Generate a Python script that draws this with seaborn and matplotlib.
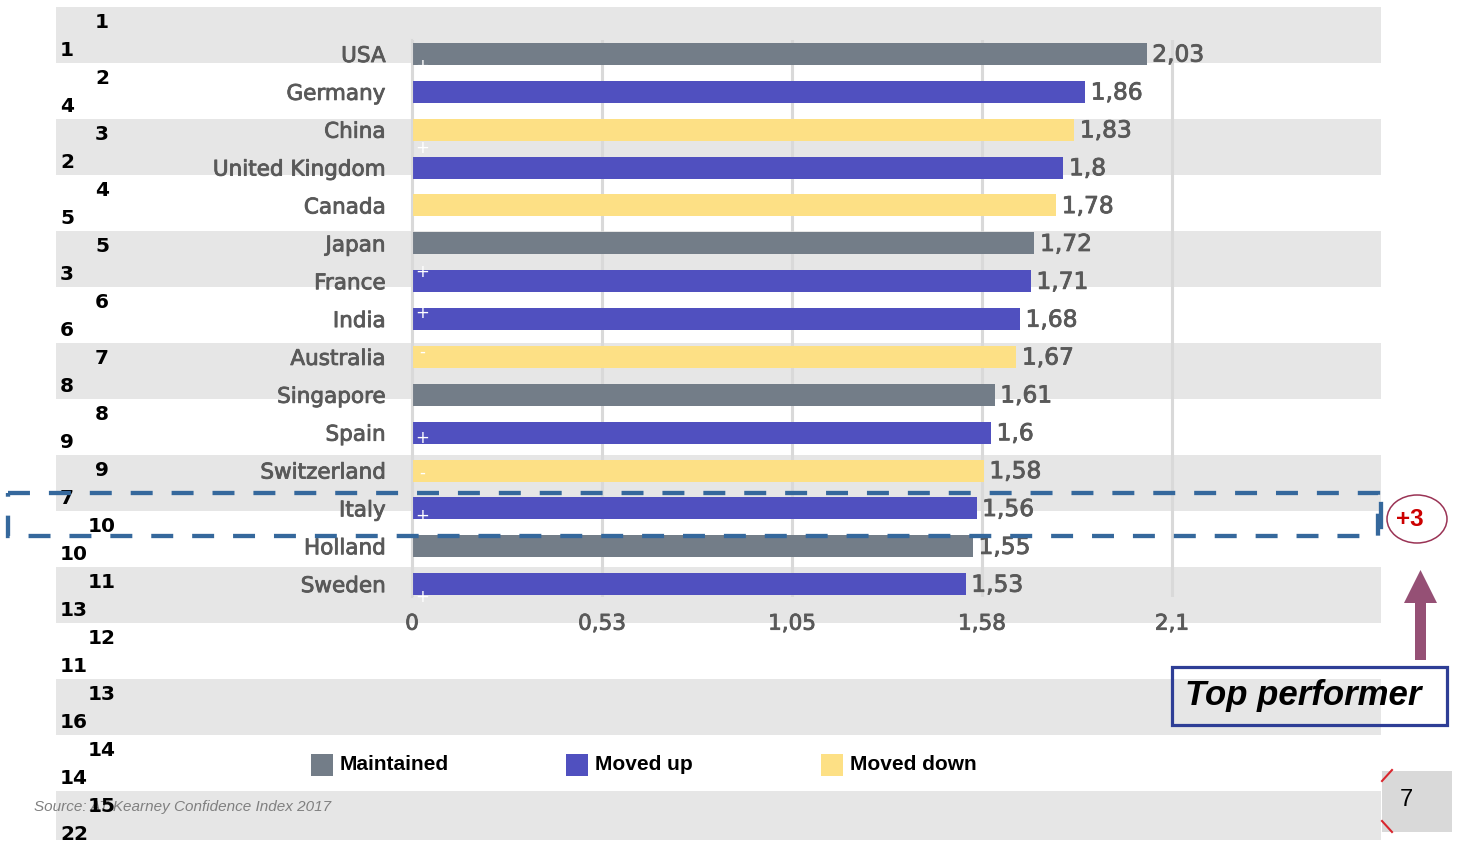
import numpy as np
import pandas as pd
import matplotlib
matplotlib.use("Agg")
import matplotlib.pyplot as plt
import matplotlib.patheffects as pe
import seaborn as sns
from matplotlib.patches import Rectangle, Ellipse, Polygon
from matplotlib.lines import Line2D

# ---------------- data ----------------
countries = ["USA", "Germany", "China", "United Kingdom", "Canada", "Japan",
             "France", "India", "Australia", "Singapore", "Spain",
             "Switzerland", "Italy", "Holland", "Sweden"]
scores = [2.03, 1.86, 1.83, 1.8, 1.78, 1.72, 1.71, 1.68, 1.67, 1.61, 1.6,
          1.58, 1.56, 1.55, 1.53]
status = ["Maintained", "Moved up", "Moved down", "Moved up", "Moved down",
          "Maintained", "Moved up", "Moved up", "Moved down", "Maintained",
          "Moved up", "Moved down", "Moved up", "Maintained", "Moved up"]
status_order = ["Maintained", "Moved up", "Moved down"]
status_colors = ["#737d88", "#5050bf", "#fde085"]

rank_new = [1, 2, 3, 4, 5, 6, 7, 8, 9, 10, 11, 12, 13, 14, 15]
rank_old = [1, 4, 2, 5, 3, 6, 8, 9, 7, 10, 13, 11, 16, 14, 22]

x_ticks = [0, 0.525, 1.05, 1.575, 2.1]
x_tick_labels = ["0", "0,53", "1,05", "1,58", "2,1"]

# small white change markers drawn on the bars (country, sign, row offset)
marker_country = ["USA", "United Kingdom", "France", "India", "Australia",
                  "Spain", "Switzerland", "Italy", "Sweden"]
marker_sign = ["+", "+", "+", "+", "-", "+", "-", "+", "+"]
marker_offset = [0.32, -0.53, -0.24, -0.16, -0.13, 0.13, 0.05, 0.21, 0.34]

source_text = "Source: AT Kearney Confidence Index 2017"

df = pd.DataFrame({"country": countries, "score": scores, "status": status})

label_gray = "#595959"
heavier = [pe.withStroke(linewidth=0.6, foreground=label_gray)]

# ---------------- figure ----------------
W, H = 1457, 843
fig = plt.figure(figsize=(W / 100, H / 100), dpi=100)
fig.patch.set_facecolor("white")

bg = fig.add_axes([0, 0, 1, 1], zorder=0)
bg.set_xlim(0, W)
bg.set_ylim(H, 0)
bg.axis("off")

# alternating table bands
for i in range(len(rank_new)):
    top = 7 + 56 * i
    if i % 2 == 0:
        bg.add_patch(Rectangle((56, top), 1325, min(56, 840 - top),
                               facecolor="#e6e6e6", lw=0))

# source text (under rank numbers)
bg.text(34, 807, source_text, fontsize=11, style="italic", color="#808080",
        family="Liberation Sans", ha="left", va="center", zorder=1)

# rank numbers
for i, (rn, ro) in enumerate(zip(rank_new, rank_old)):
    bg.text(102, 22.5 + 56 * i, str(rn), fontsize=14.5, fontweight="bold",
            family="DejaVu Sans", color="black", ha="center", va="center", zorder=2)
    bg.text(60, 50 + 56 * i, str(ro), fontsize=14.5, fontweight="bold",
            family="DejaVu Sans", color="black", ha="left", va="center", zorder=2)

# legend (manual)
leg_x = [311, 566, 821]
for x0, lab, col in zip(leg_x, status_order, status_colors):
    bg.add_patch(Rectangle((x0, 754), 22, 22, facecolor=col, lw=0))
    bg.text(x0 + 29, 764, lab, fontsize=15, fontweight="bold",
            family="Liberation Sans", color="black", ha="left", va="center")

# ---------------- main bar chart ----------------
px_per_unit = 760 / 2.1
xmax = 2.2
ax_left, ax_top, ax_bottom = 412, 40, 597
ax = fig.add_axes([ax_left / W, 1 - ax_bottom / H,
                   xmax * px_per_unit / W, (ax_bottom - ax_top) / H], zorder=1)
ax.patch.set_alpha(0)

sns.barplot(data=df, y="country", x="score", hue="status",
            hue_order=status_order, palette=dict(zip(status_order, status_colors)),
            dodge=False, width=0.58, orient="h", saturation=1, legend=False,
            ax=ax, zorder=2)

ax.set_xlim(0, xmax)
ax.set_ylim(14.34, -0.37)
ax.set_xlabel("")
ax.set_ylabel("")
ax.set_xticks(x_ticks)
ax.set_xticklabels(x_tick_labels)
ax.xaxis.grid(True, color="#d9d9d9", lw=2.2)
ax.yaxis.grid(False)
ax.set_axisbelow(True)
for s in ["top", "right", "bottom"]:
    ax.spines[s].set_visible(False)
ax.spines["left"].set_color("#d9d9d9")
ax.spines["left"].set_linewidth(1.5)
ax.tick_params(axis="x", length=0, pad=12, labelsize=15.5, labelcolor=label_gray)
ax.tick_params(axis="y", length=0, pad=19, labelsize=15.5, labelcolor=label_gray)
for lbl in ax.get_xticklabels() + ax.get_yticklabels():
    lbl.set_fontfamily("DejaVu Sans")
    lbl.set_path_effects(heavier)

# value labels
for i, v in enumerate(scores):
    ax.annotate(f"{v:g}".replace(".", ","), (v, i), xytext=(4, -0.8),
                textcoords="offset points", ha="left", va="center",
                fontsize=16.8, color=label_gray, family="DejaVu Sans", zorder=3,
                path_effects=heavier)

# change markers
for c, sgn, off in zip(marker_country, marker_sign, marker_offset):
    ax.text(0.028, countries.index(c) + off, sgn, color="white", fontsize=12,
            ha="center", va="center", zorder=4)

# ---------------- overlay annotations ----------------
ov = fig.add_axes([0, 0, 1, 1], zorder=3)
ov.set_xlim(0, W)
ov.set_ylim(H, 0)
ov.axis("off")
ov.patch.set_alpha(0)

lw_dash = 3.1
ov.add_patch(Rectangle((8, 493), 1370, 43, fill=False, edgecolor="#35689c",
                       lw=lw_dash, linestyle=(0, (5.1, 4.4))))
ov.add_line(Line2D([1380.5, 1380.5], [504, 527], color="#35689c", lw=lw_dash))

ov.add_patch(Ellipse((1417, 519), 60, 48, fill=False, edgecolor="#9a3355", lw=1.1))
ov.text(1410, 519, "+3", color="#cc0000", fontsize=17.5, fontweight="bold",
        family="Liberation Sans", ha="center", va="center")

ov.add_patch(Polygon([(1415, 660), (1426, 660), (1426, 603), (1437, 603),
                      (1420.5, 570), (1404, 603), (1415, 603)],
                     closed=True, facecolor="#955075", lw=0))

ov.add_patch(Rectangle((1172, 667), 275, 58, fill=False, edgecolor="#2e3e96", lw=2.3))
ov.text(1185, 696, "Top performer", fontsize=25, fontweight="bold", style="italic",
        family="Liberation Sans", color="black", ha="left", va="center")

ov.add_patch(Rectangle((1382, 771), 70, 61, facecolor="#d9d9d9", lw=0))
ov.text(1406, 800, "7", fontsize=17, family="Liberation Sans", color="black",
        ha="center", va="center")
ov.add_line(Line2D([1382, 1392], [781, 770], color="#d9262e", lw=1.5))
ov.add_line(Line2D([1382, 1392], [821, 832], color="#d9262e", lw=1.5))

fig.savefig("out.png", dpi=100)
